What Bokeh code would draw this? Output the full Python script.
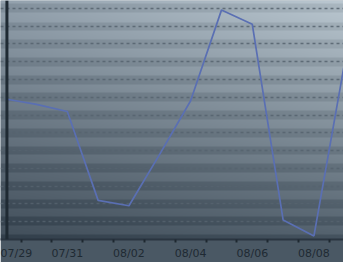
import numpy as np
from datetime import datetime, timedelta
from bokeh.plotting import figure
from bokeh.models import Range1d, FixedTicker, SingleIntervalTicker, Span
from bokeh.embed import file_html
from bokeh.resources import INLINE

# ---- data ----
dates = ["2023-07-29", "2023-07-30", "2023-07-31", "2023-08-01", "2023-08-02",
         "2023-08-03", "2023-08-04", "2023-08-05", "2023-08-06", "2023-08-07",
         "2023-08-08", "2023-08-09"]
values = [79, 76, 72, 22, 19, 48, 78, 129, 121, 11, 2, 100]
tick_labels = ["07/29", "07/31", "08/02", "08/04", "08/06", "08/08"]

xs = [datetime.strptime(d, "%Y-%m-%d") for d in dates]
ms = lambda d: (d - datetime(1970, 1, 1)).total_seconds() * 1000.0

x_start = xs[0] - timedelta(hours=4)
x_end = xs[-2] + timedelta(hours=23)
y0, y1 = 0, 134.4

W, H = 343, 262
p = figure(width=W, height=H, x_axis_type="datetime", output_backend="svg",
           toolbar_location=None, min_border=0, min_border_left=0, min_border_right=0,
           min_border_top=0, min_border_bottom=0,
           x_range=Range1d(x_start, x_end), y_range=Range1d(y0, y1))
p.outline_line_color = None
p.border_fill_color = "#4a5864"
p.background_fill_color = "#8a9aa6"

# ---- striped gradient background (decoration) ----
fw, fh = 343, 243
yy, xx = np.mgrid[0:fh, 0:fw]
u = xx / (fw - 1)
v = yy / (fh - 1)
TL = np.array([140, 154, 166.0]); TR = np.array([180, 193, 202.0])
BL = np.array([58, 71, 83.0]); BR = np.array([76, 90, 102.0])
col = ((1 - u)[..., None] * (1 - v)[..., None] * TL + u[..., None] * (1 - v)[..., None] * TR
       + (1 - u)[..., None] * v[..., None] * BL + u[..., None] * v[..., None] * BR)
val = y1 - (yy + 0.5) * (y1 - y0) / fh
band = (np.floor((val + 2.5) / 5) % 2 == 0)
col = col + np.where(band, -8, 7)[..., None]
col = np.clip(col, 0, 255).astype(np.uint32)
img = np.empty((fh, fw), dtype=np.uint32)
view = img.view(dtype=np.uint8).reshape((fh, fw, 4))
view[..., 0] = col[..., 0]
view[..., 1] = col[..., 1]
view[..., 2] = col[..., 2]
view[..., 3] = 255
img = img[::-1]
p.image_rgba(image=[img], x=ms(x_start), y=y0, dw=ms(x_end) - ms(x_start), dh=y1 - y0,
             level="image")

# ---- grid ----
p.xgrid.visible = False
p.ygrid.ticker = SingleIntervalTicker(interval=10)
p.ygrid.grid_line_color = "#56636e"
p.ygrid.grid_line_alpha = 0.85
p.ygrid.grid_line_width = 1.5
p.ygrid.grid_line_dash = "3 3"

# ---- left axis line ----
p.add_layout(Span(location=ms(xs[0] + timedelta(hours=1)), dimension="height",
                  line_color="#1f2a33", line_width=3))

# ---- series line ----
p.line(xs, values, line_color="#5a6fb3", line_width=1.7)

# ---- axes ----
p.yaxis.visible = False
major = [ms(d) for d in xs[0::2]]
minor = sorted([ms(d) + 12 * 3600 * 1000 for d in xs[:-1]])
p.xaxis.ticker = FixedTicker(ticks=major, minor_ticks=minor)
p.xaxis.major_label_overrides = {m: t for m, t in zip(major, tick_labels)}
p.xaxis.major_tick_out = 0
p.xaxis.major_tick_in = 0
p.xaxis.minor_tick_out = 3
p.xaxis.minor_tick_in = 0
p.xaxis.minor_tick_line_color = "#1e2830"
p.xaxis.minor_tick_line_width = 2
p.xaxis.axis_line_color = "#2a3540"
p.xaxis.axis_line_width = 2
p.xaxis.major_label_standoff = 4
p.xaxis.major_label_text_font = "DejaVu Sans"
p.xaxis.major_label_text_font_size = "11px"
p.xaxis.major_label_text_color = "#1f2a33"

open("out.html", "w").write(file_html(p, INLINE))
